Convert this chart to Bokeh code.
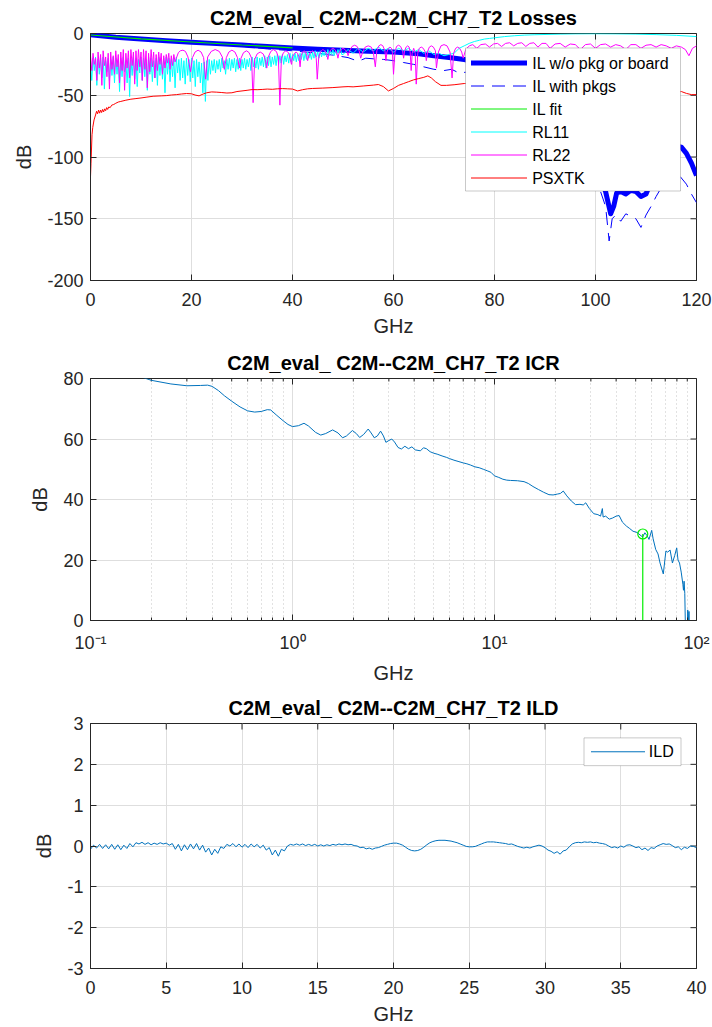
import numpy as np
from bokeh.plotting import figure
from bokeh.models import Range1d, FixedTicker, BoxAnnotation, Label
from bokeh.layouts import column
from bokeh.embed import file_html
from bokeh.resources import INLINE

FONT = "Liberation Sans"
AX = "#262626"
GRID = "#dedede"

# ---------------- Losses (top) ----------------
il_f = [0, 5, 10, 15, 20, 25, 30, 35, 40, 45, 50, 55, 60, 65, 68, 71, 74, 77, 80, 85, 90, 95, 100,
        101, 102, 103, 103.6, 104.2, 105, 106, 107, 108, 109, 110, 111, 112, 114, 116, 117, 118, 119, 120]
il_db = [-1.0, -3.0, -4.5, -5.8, -7.0, -8.2, -9.4, -10.6, -11.8, -12.8, -13.6, -14.3, -15.0, -16.5, -18.0, -19.5, -21.0, -23.5, -26, -32, -45, -70, -105,
         -118, -128, -146, -140, -129, -128, -130, -127, -128, -132, -130, -120, -110, -98, -91, -92, -97, -105, -115]

ilp_f = [0, 10, 20, 30, 35, 40, 45, 48, 51, 53, 54.5, 56, 58, 60, 62, 64, 66, 68, 70, 71.5, 73, 75, 78, 80, 85, 90, 95, 100,
         101, 102, 102.7, 103.3, 104, 105, 106, 107, 108, 109, 110, 111, 112, 113, 114, 116, 118, 119, 120]
ilp_db = [-1.8, -5.2, -7.8, -10.3, -12.5, -14.0, -16.0, -17.5, -19.5, -22.5, -20.0, -20.5, -21.0, -22.0, -23.5, -25.0, -27.0, -29.0, -30.0, -29.0, -32.0, -31.0, -35.0, -38, -48, -65, -90, -120,
          -128, -140, -168, -150, -147, -152, -146, -148, -150, -157, -147, -140, -132, -125, -118, -112, -122, -130, -137]

ilfit_f = [0, 10, 20, 30, 40]
ilfit_db = [-1.2, -4.3, -6.9, -9.3, -11.6]

rl11_dense_db = [
    -22, -38, -20, -30, -19, -42, -21, -33, -20, -36, -19, -45, -22, -31, -20, -38, -21, -34, -19, -40,
    -20, -33, -21, -47, -20, -35, -19, -31, -22, -40, -20, -51, -21, -34, -19, -37, -20, -43, -21, -32,
    -19, -38, -20, -35, -21, -46, -19, -33, -20, -39, -22, -36, -20, -42, -19, -34, -21, -37, -20, -48,
    -19, -33, -20, -39, -21, -35, -20, -44, -19, -32, -21, -38, -20, -36, -22, -41, -20, -34, -21, -39,
    -20, -36, -22, -43, -21, -35, -23, -40, -24, -48, -23, -55, -22, -38, -21, -33, -22, -30, -21, -32,
    -22, -29, -21, -31, -20, -28, -22, -33, -21, -29, -20, -30, -21, -28, -20, -31, -21, -29, -20, -30,
    -21, -28, -20, -29, -21, -27, -20, -30, -19, -27, -20, -28, -19, -29, -20, -26, -19, -27, -18, -28,
    -19, -26, -18, -27, -19, -25, -18, -26, -17, -25, -18, -24, -17, -25, -18, -23, -17, -24, -16, -23,
    -17, -22, -16, -23, -17, -22, -16, -21, -15, -22, -16, -21, -15, -20, -16, -21, -15, -20, -14, -19,
    -15, -20, -14, -19, -15, -18, -14, -19, -13, -18, -14, -17, -13, -18, -14, -17, -13, -16, -12, -17]
rl11_tail_f = [50, 51, 52, 53, 54, 55, 56, 57, 58, 59, 60, 61, 62, 63, 64, 65, 66, 67, 68, 69, 70, 71, 72, 73, 74, 75, 76, 77, 78, 79, 80,
               82, 84, 86, 88, 90, 93, 96, 100, 104, 108, 112, 116, 120]
rl11_tail_db = [-17, -13, -16, -12, -15, -12, -14, -11, -14, -12, -15, -12, -14, -12, -15, -13, -16, -14, -17, -16,
                -18, -17, -16, -12, -10, -8, -6.5, -5.5, -4.5, -4, -3.5,
                -2.5, -1.8, -1.3, -1, -0.8, -0.5, -0.3, -0.2, -0.3, -0.5, -0.9, -1.5, -2.5]

rl22_dense_db = [
    -18, -30, -16, -25, -20, -38, -15, -28, -17, -42, -14, -26, -19, -35, -16, -45, -15, -29, -18, -33,
    -14, -27, -17, -40, -15, -30, -13, -46, -16, -28, -14, -36, -13, -26, -15, -41, -14, -30, -13, -27,
    -15, -38, -13, -29, -14, -44, -16, -31, -13, -27, -15, -36, -17, -30, -15, -25, -16, -33, -18, -28,
    -17, -24, -16, -29, -18, -26, -17, -23]
rl22_arch_f = [17.0, 17.4, 17.8, 18.3, 18.8, 19.3, 19.8,
               20.2, 20.7, 21.3, 21.9, 22.4, 22.8,
               23.2, 23.9, 24.7, 25.5, 26.1, 26.5,
               26.9, 27.4, 28.0, 28.6, 29.1, 29.5,
               29.8, 30.3, 30.9, 31.4, 31.9, 32.2,
               32.5, 33.0, 33.6, 34.2, 34.6, 34.9,
               35.2, 35.7, 36.2, 36.8, 37.2, 37.5,
               37.8, 38.2, 38.7, 39.2, 39.5, 39.8,
               40.0, 40.4, 40.7, 41.0, 41.3, 41.5,
               41.7, 42.0, 42.3, 42.6, 42.8, 43.0,
               43.2, 43.6, 44.0, 44.4, 44.7, 44.9,
               45.2, 45.6, 46.0, 46.4, 46.8, 47.0,
               47.2, 47.6, 48.0, 48.4, 48.8, 49.0,
               49.2, 49.6, 50.0, 50.4, 50.8, 51.0,
               51.3, 51.8, 52.3, 52.8, 53.2, 53.5,
               53.9, 54.4, 55.0, 55.6, 56.0, 56.4,
               56.7, 57.1, 57.5, 57.9, 58.3, 58.5,
               58.7, 59.0, 59.3, 59.6, 59.8, 60.0,
               60.3, 60.6, 61.0, 61.4, 61.8, 62.0,
               62.2, 62.5, 62.8, 63.1, 63.3, 63.5,
               63.7, 64.0, 64.3, 64.5,
               64.8, 65.1, 65.5, 65.9, 66.3, 66.5,
               66.8, 67.1, 67.5, 67.9, 68.3, 68.5,
               68.9, 69.4, 70.0, 70.6, 71.2, 71.6,
               71.9, 72.3, 72.7, 73.1, 73.5, 73.8,
               74.3, 75, 75.7, 76.5, 77.3, 78.2, 79, 79.8, 80.6, 81.4,
               82.2, 83, 83.8, 84.6, 85.4, 86.2, 87, 87.8, 88.6, 89.4,
               90.2, 91, 92, 93, 94, 95, 96, 97, 98, 99,
               100, 101, 102, 103, 104, 105, 106, 107, 108, 109,
               110, 111, 112, 113, 114, 115, 116, 117, 117.8, 118.5,
               119.2, 120]
rl22_arch_db = [-20, -15.5, -14, -13.5, -14.5, -19, -31,
                -19.5, -15, -13.5, -15, -19.5, -37,
                -19, -14.5, -13, -14.5, -19, -29,
                -19.5, -15, -13.5, -15, -19.5, -28,
                -20, -15.5, -14, -15.5, -20, -56,
                -21, -16.5, -15, -16.5, -21, -28,
                -19, -14.5, -13, -14.5, -19, -58,
                -20, -15.5, -14, -15.5, -20, -25,
                -19, -16, -15, -16, -19, -27,
                -18, -15, -14, -15, -18, -22,
                -18, -15, -14, -15.5, -20, -37,
                -19, -14.5, -13, -14, -17, -21,
                -16, -13, -12, -13, -16, -20,
                -16, -13, -12, -13, -15, -18,
                -14, -10.5, -9.5, -10.5, -14, -20,
                -15, -11, -10, -11, -15, -27,
                -14, -10, -9, -10, -14, -22,
                -15, -12, -11, -12, -16, -33,
                -15, -10.5, -9.5, -10.5, -14, -20,
                -14, -11, -10, -11, -15, -30,
                -16, -12, -16, -41,
                -16, -12, -11, -12, -15, -22,
                -14, -11, -10, -11, -14, -28,
                -15, -10, -9, -10, -15, -36,
                -16, -12, -11, -12, -15, -20,
                -13, -10, -9, -12, -9, -8.5, -11, -8.5, -8, -10.5,
                -8, -7.5, -10, -8, -7.5, -10.5, -8, -7.5, -11, -8,
                -8, -12, -8.5, -8, -11, -8.5, -9, -13, -9, -8.5,
                -12, -9, -8.5, -11, -9, -10, -13, -9, -9, -12,
                -9.5, -9, -11, -9, -10, -12, -10, -11, -13, -18,
                -12, -10]

xtk_f = [0, 0.1, 0.3, 0.45, 0.7, 1.0, 1.2, 1.4, 1.6, 1.8, 2.0, 2.2, 2.4, 2.6, 2.8, 3.0, 3.2, 3.4, 3.6, 3.9, 4.2, 4.6, 5.0, 5.5, 6.0,
         7, 8, 9, 10, 11, 12.4, 14, 15, 16, 17, 18, 19, 20, 20.7, 21.5, 22.3, 23, 24, 25, 26, 27, 28, 29, 30, 31, 32, 33, 34,
         35, 36, 37, 38, 39, 40, 41, 42, 43, 44, 46, 48, 50, 51, 52, 54, 56, 57, 58, 59, 60, 61, 62, 63, 64, 65, 66, 66.8,
         67.5, 68.3, 69.4, 70.5, 72, 74, 76, 78, 85, 95, 105, 112, 116, 117, 118, 119, 120]
xtk_db = [-116, -105, -82, -76, -70, -66, -63, -65, -62, -64.5, -62, -64, -61.5, -63.5, -61, -62.5, -60, -61.5, -59.5, -60, -58, -57.5, -56.5, -55.5, -55,
          -54, -53.2, -52.7, -52.2, -51.6, -50.8, -50.5, -50.3, -49.8, -49.5, -49, -48.6, -48.8, -49.8, -50.5, -49, -48, -47.3, -47.5, -47.8, -48.2, -48, -47, -46.5, -46, -45.4, -45.5, -45.3,
          -45, -45.2, -44.8, -44.6, -44.8, -45, -46.5, -45.5, -44.8, -44.5, -44.2, -43.8, -43.2, -43, -43.2, -42.5, -41.8, -41.3, -43, -46.5, -44.5, -42, -40.5, -39, -37.5, -36.5, -35.5, -34.3,
          -36, -39, -42, -42, -41.5, -40.5, -40.5, -41, -42, -44, -45, -46, -47.5, -47, -48.5, -49.5, -49.5]

# ---------------- ICR (middle) ----------------
icr_f = [0.17, 0.2, 0.25, 0.3, 0.35, 0.38, 0.4, 0.43, 0.46, 0.5,
         0.55, 0.6, 0.65, 0.7, 0.75, 0.78, 0.83, 0.9, 0.95, 1.0,
         1.07, 1.14, 1.2, 1.3, 1.38, 1.46, 1.58, 1.68, 1.77, 1.85,
         1.98, 2.07, 2.15, 2.25, 2.37, 2.45, 2.54, 2.63, 2.73, 2.82,
         2.9, 3.0, 3.1, 3.2, 3.33, 3.46, 3.6, 3.75, 3.9, 4.05,
         4.3, 4.45, 4.6, 4.8, 5.0, 5.2, 5.5, 5.8, 6.0, 6.3,
         6.6, 7.0, 7.3, 7.6, 8.0, 8.4, 8.8, 9.2, 9.6, 10.0,
         10.5, 11.0, 11.5, 12.0, 13.0, 14.0, 14.7, 15.5, 16.5, 17.5,
         18.6, 19.5, 20.5, 21.2, 21.9, 22.8, 24.0, 25.2, 26.5, 27.5,
         28.3, 29.5, 31.0, 32.5, 33.5, 34.2, 34.5, 35.5, 37.0, 38.5,
         40.0, 41.4, 43.0, 45.0, 46.5, 48.5, 50.8, 52.5, 54.1, 55.5,
         57.0, 58.2, 60.0, 61.0, 62.8, 64.5, 66.0, 68.5, 70.0, 70.6,
         72.0, 74.0, 76.0, 78.0, 79.8, 81.0, 82.4, 84.0, 85.6, 86.2,
         86.8, 87.5, 88.0, 89.0, 90.0, 90.5, 91.0, 91.8, 92.3]
icr_db = [81.0, 79.4, 78.2, 77.6, 77.7, 77.8, 77.4, 76.0, 74.3, 72.5,
          70.6, 69.3, 68.9, 69.1, 69.7, 69.6, 68.0, 66.0, 64.8, 64.1,
          64.4, 65.2, 64.3, 62.2, 61.3, 61.8, 63.0, 62.0, 60.4, 61.0,
          62.8, 61.8, 60.5, 61.5, 63.3, 62.0, 60.4, 61.0, 62.6, 61.0,
          58.9, 59.5, 60.0, 59.0, 57.2, 56.7, 57.6, 56.8, 57.4, 56.4,
          56.1, 57.1, 56.8, 55.8, 55.3, 55.0, 54.4, 53.9, 53.5, 53.0,
          52.6, 52.1, 51.8, 51.4, 50.8, 50.5, 50.0, 49.5, 49.0, 47.8,
          47.3, 46.7, 46.4, 46.3, 46.2, 45.9, 45.3, 44.3, 43.3, 42.4,
          41.6, 41.5, 41.8, 42.0, 42.8, 41.2, 39.5, 38.3, 38.4, 38.2,
          38.9, 37.0, 35.3, 35.0, 34.5, 37.0, 34.2, 34.5, 33.5, 33.9,
          34.5, 34.7, 32.5, 31.2, 30.5, 29.5, 29.1, 28.3, 27.6, 29.0,
          28.0, 26.8, 29.8, 27.0, 23.5, 22.0, 19.0, 15.4, 21.0, 23.0,
          22.6, 23.3, 19.0, 21.5, 24.0, 20.0, 19.0, 16.0, 12.0, 10.0,
          13.0, 9.0, 0.0, -5.0, -3.0, 3.5, -1.0, 3.0, -2.0]
icr_mark_f = [54.2]
icr_mark_db = [28.6]
icr_mark_base = [0.0]

# ---------------- ILD (bottom) ----------------
ild_db = [
    -0.08, 0.02, -0.05, 0.04, -0.06, 0.03, -0.07, 0.04, -0.08, 0.03,
    -0.09, 0.02, -0.06, 0.06, -0.02, 0.08, 0.05, 0.09, 0.04, 0.08,
    0.03, 0.07, 0.04, 0.08, 0.05, 0.07, 0.02, 0.06, -0.08, 0.04,
    -0.12, 0.03, -0.09, 0.05, -0.07, 0.06, -0.10, 0.02, -0.15, -0.05,
    -0.22, -0.08, -0.18, -0.02, -0.06, 0.04, 0.00, 0.06, -0.02, 0.05,
    -0.03, 0.04, -0.04, 0.05, -0.02, 0.04, -0.05, 0.02, -0.10, -0.04,
    -0.22, -0.10, -0.25, -0.08, -0.12, 0.00, 0.04, 0.02, 0.05, 0.02,
    0.05, 0.01, 0.04, 0.01, 0.04, 0.00, 0.03, 0.00, 0.03, 0.01,
    0.04, 0.02, 0.05, 0.03, 0.05, 0.03, 0.04, 0.01, 0.00, -0.04,
    -0.03, -0.07, -0.05, -0.08, -0.05, -0.04, -0.01, 0.02, 0.04, 0.06,
    0.07, 0.07, 0.05, 0.02, -0.03, -0.08, -0.11, -0.12, -0.11, -0.08,
    -0.03, 0.03, 0.08, 0.11, 0.13, 0.14, 0.14, 0.14, 0.13, 0.12,
    0.10, 0.08, 0.05, 0.02, -0.01, -0.02, -0.02, -0.01, 0.02, 0.05,
    0.08, 0.10, 0.10, 0.10, 0.09, 0.08, 0.07, 0.06, 0.04, 0.05,
    0.02, -0.01, -0.03, -0.05, -0.03, -0.05, -0.02, 0.00, 0.02, 0.00,
    -0.04, -0.10, -0.13, -0.18, -0.14, -0.20, -0.12, -0.10, -0.02, 0.05,
    0.08, 0.09, 0.08, 0.10, 0.09, 0.10, 0.08, 0.09, 0.07, 0.06,
    0.04, 0.00, -0.04, -0.02, -0.05, 0.00, -0.03, 0.02, 0.03, 0.00,
    -0.04, -0.02, -0.09, -0.05, -0.11, -0.04, -0.06, 0.00, 0.03, 0.06,
    0.04, 0.05, 0.01, -0.04, -0.02, -0.09, -0.03, -0.06, 0.00, -0.01,
    -0.04]

top_xticks = [0, 20, 40, 60, 80, 100, 120]
top_yticks = [-200, -150, -100, -50, 0]
mid_xticks = [0.1, 1, 10, 100]
mid_xlabels = {0.1: "10\u207b\u00b9", 1: "10\u2070", 10: "10\u00b9", 100: "10\u00b2"}
mid_minor = [0.2, 0.3, 0.4, 0.5, 0.6, 0.7, 0.8, 0.9, 2, 3, 4, 5, 6, 7, 8, 9, 20, 30, 40, 50, 60, 70, 80, 90]
mid_yticks = [0, 20, 40, 60, 80]
bot_xticks = [0, 5, 10, 15, 20, 25, 30, 35, 40]
bot_yticks = [-3, -2, -1, 0, 1, 2, 3]

top_legend = [("IL w/o pkg or board", "#0000ff", 5, "solid"),
              ("IL with pkgs", "#0000ff", 1, "13 8"),
              ("IL fit", "#00ee00", 1, "solid"),
              ("RL11", "#00ffff", 1, "solid"),
              ("RL22", "#ff00ff", 1, "solid"),
              ("PSXTK", "#ff0000", 1, "solid")]
bot_legend = [("ILD", "#0072bd", 1, "solid")]

LEFT, RIGHT, W = 90, 16, 712
FRAME_W = W - LEFT - RIGHT
FRAME_H = 247


def make_fig(height, top, xr, yr, title, xticks, yticks, log=False, minor=None, xlabels=None):
    p = figure(width=W, height=height, x_range=xr, y_range=yr,
               x_axis_type="log" if log else "linear",
               output_backend="svg", toolbar_location=None,
               min_border_left=LEFT, min_border_right=RIGHT,
               min_border_top=top, min_border_bottom=height - top - FRAME_H, title=title)
    p.title.text_font = FONT
    p.title.text_font_size = "20px"
    p.title.text_font_style = "bold"
    p.title.align = "center"
    p.title.text_color = "#000000"
    p.title.standoff = 9
    p.outline_line_color = AX
    p.outline_line_width = 1
    p.background_fill_color = "white"
    p.border_fill_color = "white"
    xt = FixedTicker(ticks=xticks, minor_ticks=minor or [])
    yt = FixedTicker(ticks=yticks)
    p.xaxis.ticker = xt
    p.yaxis.ticker = yt
    if xlabels:
        p.xaxis.major_label_overrides = xlabels
    else:
        p.xaxis.major_label_overrides = {v: str(v) for v in xticks}
    p.yaxis.major_label_overrides = {v: str(v) for v in yticks}
    for ax in (p.xaxis[0], p.yaxis[0]):
        ax.axis_line_color = AX
        ax.major_tick_line_color = AX
        ax.major_tick_in = 6
        ax.major_tick_out = 0
        ax.minor_tick_in = 3
        ax.minor_tick_out = 0
        ax.minor_tick_line_color = AX if (minor and ax is p.xaxis[0]) else None
        ax.major_label_text_font = FONT
        ax.major_label_text_font_size = "18px"
        ax.major_label_text_color = AX
        ax.axis_label_text_font = FONT
        ax.axis_label_text_font_size = "20px"
        ax.axis_label_text_font_style = "normal"
        ax.axis_label_text_color = AX
    p.xaxis.axis_label = "GHz"
    p.yaxis.axis_label = "dB"
    p.xaxis.major_label_standoff = 12
    p.xaxis.axis_label_standoff = 6
    p.yaxis.major_label_standoff = 7
    p.yaxis.axis_label_standoff = 9
    p.xgrid.ticker = xt
    p.ygrid.ticker = yt
    p.xgrid.grid_line_color = GRID
    p.ygrid.grid_line_color = GRID
    if minor:
        p.xgrid.minor_grid_line_color = "#c4c4c4"
        p.xgrid.minor_grid_line_dash = "1 3"
    # box ticks on the top and right edges (the frame clips the outer half of each dash)
    ytop = yr.end
    xright = xr.end
    p.scatter(xticks, [ytop] * len(xticks), marker="dash", size=12, angle=np.pi / 2,
              line_color=AX, line_width=1)
    p.scatter([xright] * len(yticks), yticks, marker="dash", size=12, angle=0,
              line_color=AX, line_width=1)
    if minor:
        p.scatter(minor, [ytop] * len(minor), marker="dash", size=6, angle=np.pi / 2,
                  line_color=AX, line_width=1)
    return p


def draw_legend(p, xr, yr, box, entries, line_px, text_px, first_py, step):
    """box = (left, right, top, bottom) in frame pixels from the frame's top-left corner."""
    def fx(px):
        return xr.start + px / FRAME_W * (xr.end - xr.start)

    def fy(py):
        return yr.end - py / FRAME_H * (yr.end - yr.start)

    p.add_layout(BoxAnnotation(left=fx(box[0]), right=fx(box[1]), top=fy(box[2]), bottom=fy(box[3]),
                               fill_color="white", fill_alpha=1.0, line_color="#4d4d4d",
                               line_width=1, level="annotation"))
    for i, (label, color, width, dash) in enumerate(entries):
        yc = fy(first_py + step * i)
        p.segment(x0=[fx(line_px[0])], y0=[yc], x1=[fx(line_px[1])], y1=[yc],
                  line_color=color, line_width=width, line_dash=dash, level="overlay")
        p.add_layout(Label(x=fx(text_px), y=yc, text=label, text_font=FONT,
                           text_font_size="16px", text_color="#000000",
                           text_baseline="middle", text_align="left", level="overlay"))


# ---- top ----
xr1, yr1 = Range1d(0, 120), Range1d(-200, 0)
p1 = make_fig(343, 33, xr1, yr1, "C2M_eval_ C2M--C2M_CH7_T2 Losses", top_xticks, top_yticks)
rl11_f = list(np.arange(0, 50, 0.25)) + rl11_tail_f
rl11_db = rl11_dense_db + rl11_tail_db
rl22_f = list(np.arange(0, 17, 0.25)) + rl22_arch_f
rl22_db = rl22_dense_db + rl22_arch_db
p1.line(il_f, il_db, line_color="#0000ff", line_width=5, line_join="round")
p1.line(ilp_f, ilp_db, line_color="#0000ff", line_width=1, line_dash="13 8")
p1.line(ilfit_f, ilfit_db, line_color="#00ee00", line_width=1.2)
p1.line(rl11_f, rl11_db, line_color="#00ffff", line_width=1)
p1.line(rl22_f, rl22_db, line_color="#ff00ff", line_width=1)
p1.line(xtk_f, xtk_db, line_color="#ff0000", line_width=1)
draw_legend(p1, xr1, yr1, (375, 590, 14.5, 157.5), top_legend, (380.5, 436.5), 441.7, 29.5, 23)

# ---- middle ----
xr2, yr2 = Range1d(0.1, 100), Range1d(0, 80)
p2 = make_fig(343, 35, xr2, yr2, "C2M_eval_ C2M--C2M_CH7_T2 ICR", mid_xticks, mid_yticks,
              log=True, minor=mid_minor, xlabels=mid_xlabels)
p2.line(icr_f, icr_db, line_color="#0072bd", line_width=1)
p2.segment(x0=icr_mark_f, y0=icr_mark_db, x1=icr_mark_f, y1=icr_mark_base, line_color="#00ee00", line_width=1.2)
p2.scatter(icr_mark_f, icr_mark_db, marker="circle", size=10, fill_color=None, line_color="#00ee00", line_width=1.2)

# ---- bottom ----
xr3, yr3 = Range1d(0, 40), Range1d(-3, 3)
p3 = make_fig(341, 37, xr3, yr3, "C2M_eval_ C2M--C2M_CH7_T2 ILD", bot_xticks, bot_yticks)
ild_f = list(np.linspace(0, 40, len(ild_db)))
p3.line(ild_f, ild_db, line_color="#0072bd", line_width=1)
draw_legend(p3, xr3, yr3, (493.5, 590.5, 14.5, 42.5), bot_legend, (500.5, 554.5), 558.3, 28.5, 0)

layout = column(p1, p2, p3, spacing=0)
open("out.html", "w").write(file_html(layout, INLINE))
